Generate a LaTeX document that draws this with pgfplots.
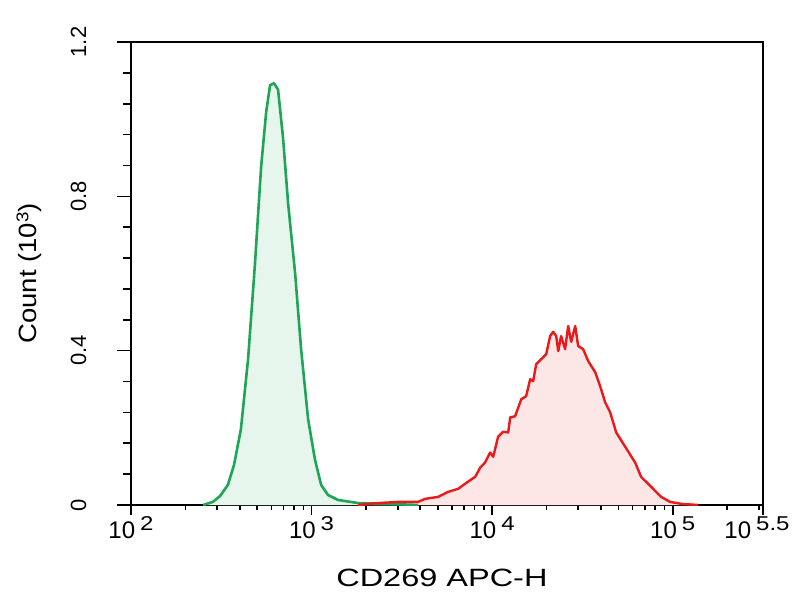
\documentclass[border=0pt]{standalone}
\usepackage{pgfplots}
\pgfplotsset{compat=1.18}
\usepackage{fontspec}
\setmainfont{Liberation Sans}
\definecolor{gline}{RGB}{30,165,85}
\definecolor{gfill}{RGB}{230,246,236}
\definecolor{rline}{RGB}{235,25,25}
\definecolor{rfill}{RGB}{253,230,230}
\newcommand{\pw}[1]{10\hspace{2.5pt}\raisebox{4pt}{\scalebox{1.2}[1]{\fontsize{10}{10}\selectfont #1}}}

\pgfplotstableread{
x y
251 0
284 0.008
311 0.023
344 0.052
372 0.104
406 0.196
445 0.378
486 0.626
525 0.874
560 1.017
589 1.088
619 1.093
652 1.077
695 0.952
741 0.783
811 0.600
875 0.404
957 0.222
1045 0.117
1130 0.052
1233 0.026
1403 0.013
1811 0.005
2655 0.003
3890 0
}\green

\pgfplotstableread{
x y
1811 0
2336 0.005
3013 0.008
3890 0.008
4254 0.016
5023 0.021
5702 0.034
6486 0.042
7178 0.057
8054 0.073
8590 0.097
9141 0.110
9750 0.136
10140 0.125
10790 0.177
11510 0.190
12270 0.188
12590 0.227
13400 0.230
14490 0.274
15420 0.282
16250 0.326
16870 0.321
17540 0.365
19190 0.383
19920 0.391
20960 0.438
21780 0.449
22630 0.438
23230 0.399
24100 0.438
25360 0.404
26370 0.464
27410 0.423
28840 0.464
29950 0.412
31920 0.404
34040 0.373
37240 0.344
39650 0.308
42270 0.266
45060 0.240
48640 0.188
54570 0.151
61950 0.110
66850 0.073
76000 0.047
86300 0.021
96800 0.008
111400 0.003
138400 0
}\red

\begin{document}
\begin{tikzpicture}
\begin{axis}[
  scale only axis, width=316pt, height=231.5pt,
  xmode=log, xmin=100, xmax=316227.77, ymin=0, ymax=1.2,
  axis line style={line width=1pt},
  xtick={100,1000,10000,100000,316227.77},
  xticklabels={\pw{2},\pw{3},\pw{4},\pw{5},\pw{5.5}\hspace*{6pt}},
  minor xtick={200,300,400,500,600,700,800,900,2000,3000,4000,5000,6000,7000,8000,9000,20000,30000,40000,50000,60000,70000,80000,90000,200000,300000},
  ytick={0,0.4,0.8,1.2}, yticklabels={0,0.4,0.8,1.2},
  minor ytick={0.08,0.16,0.24,0.32,0.48,0.56,0.64,0.72,0.88,0.96,1.04,1.12},
  tick align=outside, xtick pos=bottom, ytick pos=left,
  xtick style={black, line width=0.8pt, /pgfplots/major tick length=5pt, /pgfplots/minor tick length=2.5pt},
  ytick style={black, line width=0.8pt, /pgfplots/major tick length=7pt, /pgfplots/minor tick length=4pt},
  xticklabel style={font=\fontsize{12}{12}\selectfont, anchor=base},
  xticklabel shift=12.5pt,
  yticklabel style={font=\fontsize{11}{11}\selectfont, rotate=90, anchor=center},
  yticklabel shift=22pt,
  xlabel={\scalebox{1.3}[1]{CD269 APC-H}},
  xlabel style={font=\fontsize{12.5}{12.5}\selectfont, at={(axis description cs:0.492,-0.158)}, anchor=center},
  ylabel={\scalebox{1.1}[1]{Count (10\raisebox{4pt}{\fontsize{8.5}{8.5}\selectfont 3})}},
  ylabel style={font=\fontsize{12.5}{12.5}\selectfont, at={(axis description cs:-0.1614,0.5)}, anchor=center, rotate=0},
  clip=true,
]
\addplot[fill=gfill, draw=none] table[x=x,y=y]{\green} \closedcycle;
\addplot[fill=rfill, draw=none] table[x=x,y=y]{\red} \closedcycle;
\addplot[gline, line width=1.3pt, line join=round] table[x=x,y=y]{\green};
\addplot[rline, line width=1.2pt, line join=round] table[x=x,y=y]{\red};
\end{axis}
\pgfresetboundingbox
\path (-65.5pt,-47.5pt) rectangle (336.5pt,252.5pt);
\end{tikzpicture}
\end{document}
